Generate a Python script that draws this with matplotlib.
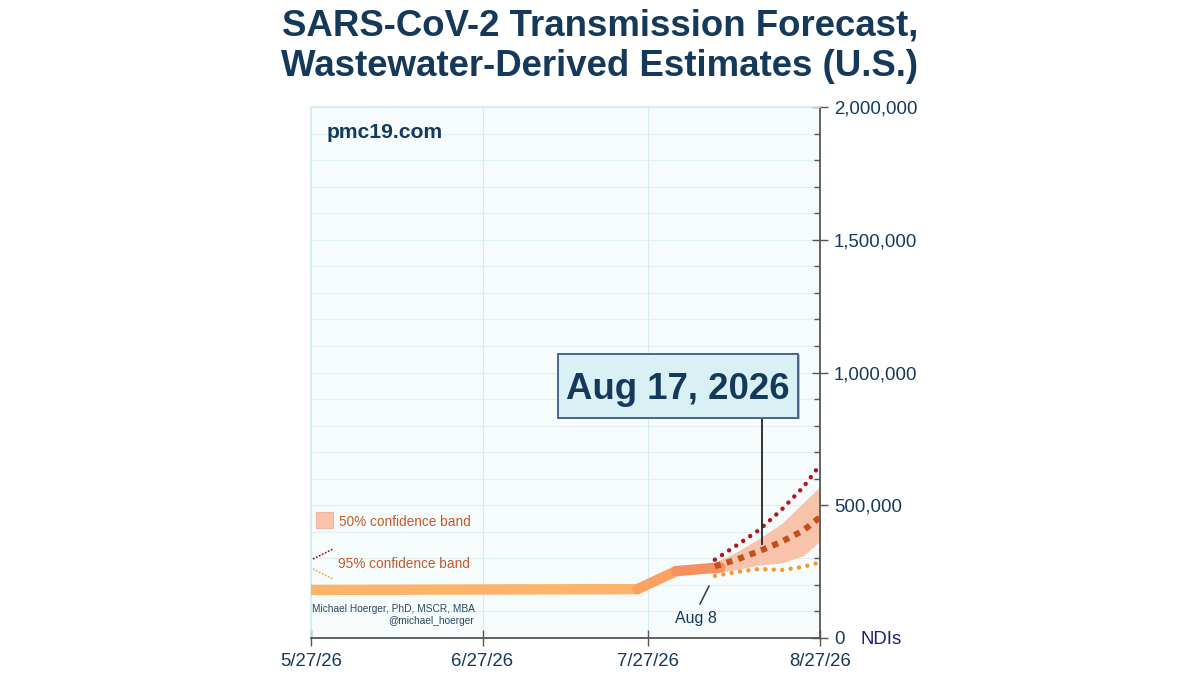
import matplotlib

matplotlib.use("Agg")
import matplotlib.pyplot as plt
from matplotlib.patches import Rectangle


# days since 5/27/26
TICK_DAYS = [0, 31, 61, 92]
TICK_LABELS = ["5/27/26", "6/27/26", "7/27/26", "8/27/26"]
Y_TICKS = [0, 500000, 1000000, 1500000, 2000000]
Y_LABELS = ["0", "500,000", "1,000,000", "1,500,000", "2,000,000"]
Y_MINOR = [i * 100000 for i in range(21)]

HIST_DAYS = [0, 36, 59, 66, 74]
HIST_VALUES = [181000, 183000, 184000, 252000, 266000]
HIST_COLORS = ["#FDB469", "#FDB469", "#FBA263", "#F6905E"]

FC_DAYS = [73, 77, 81, 85, 89, 92]
FC_MEDIAN = [270000, 296000, 327000, 362000, 405000, 455000]
FC_BAND_HI = [285000, 325000, 375000, 430000, 510000, 570000]
FC_BAND_LO = [245000, 258000, 275000, 282000, 310000, 365000]
FC_95_HI = [295000, 350000, 407000, 482000, 569000, 652000]
FC_95_LO = [234000, 249000, 260000, 256000, 268000, 285000]

NAVY = "#15395A"
ORANGE_TEXT = "#C5592A"
W, H = 1200, 675


def px(x, y):
    return x / W, 1 - y / H


plt.rcParams["font.family"] = ["Liberation Sans", "DejaVu Sans"]

fig = plt.figure(figsize=(12, 6.75), dpi=100)
left, top = px(311, 107)
right, bottom = px(820, 638)
ax = fig.add_axes([left, bottom, right - left, top - bottom])
ax.set_facecolor("#F6FCFB")
ax.set_xlim(0, 92)
ax.set_ylim(0, 2000000)

ax.set_yticks(Y_TICKS)
ax.set_yticklabels(Y_LABELS, ha="left")
ax.set_yticks([v for v in Y_MINOR if v not in Y_TICKS], minor=True)
ax.yaxis.tick_right()
ax.set_xticks(TICK_DAYS)
ax.set_xticklabels(TICK_LABELS)
ax.grid(True, which="both", axis="y", color="#DFF0F5", linewidth=0.8)
ax.grid(True, which="major", axis="x", color="#D6EAF3", linewidth=0.8)
ax.set_axisbelow(True)
ax.tick_params(axis="y", which="major", direction="inout", length=12, width=1.0,
               color="#555555", labelsize=13.4, labelcolor=NAVY, pad=4)
ax.tick_params(axis="y", which="minor", direction="in", length=4, width=1.0, color="#555555")
ax.tick_params(axis="x", direction="inout", length=12, width=1.0,
               color="#555555", labelsize=13.4, labelcolor=NAVY, pad=5)
for name, spine in ax.spines.items():
    if name in ("bottom", "right"):
        spine.set_color("#555555")
        spine.set_linewidth(1.3)
    else:
        spine.set_color("#D6EBF3")
        spine.set_linewidth(1.2)

# 50% band under the lines
ax.fill_between(FC_DAYS, FC_BAND_LO, FC_BAND_HI, color="#F7C4AB", linewidth=0, zorder=2)

# observed line, colour shifts toward the forecast
for i in range(len(HIST_DAYS) - 1):
    ax.plot(HIST_DAYS[i:i + 2], HIST_VALUES[i:i + 2], color=HIST_COLORS[i], linewidth=7.5,
            solid_capstyle="round" if i else "butt", solid_joinstyle="round", zorder=3)

ax.plot(FC_DAYS, FC_95_HI, color="#B5121B", linestyle=(0, (0.01, 1.9)), dash_capstyle="round",
        linewidth=3.2, zorder=4)
ax.plot(FC_DAYS, FC_95_LO, color="#F49A35", linestyle=(0, (0.01, 1.9)), dash_capstyle="round",
        linewidth=3.2, zorder=4)
ax.plot(FC_DAYS, FC_MEDIAN, color="#C0501C", linestyle=(0, (1, 1)), linewidth=4.4, zorder=4)

# title and labels
fig.text(*px(600, 26), "SARS-CoV-2 Transmission Forecast,", ha="center", va="center",
         fontsize=26.4, fontweight="bold", color=NAVY)
fig.text(*px(600, 67), "Wastewater-Derived Estimates (U.S.)", ha="center", va="center",
         fontsize=26.4, fontweight="bold", color=NAVY)
fig.text(*px(327, 132), "pmc19.com", ha="left", va="center", fontsize=15.2,
         fontweight="bold", color=NAVY)
fig.text(*px(860, 639), "NDIs", ha="left", va="center", fontsize=13.4, color="#1D1D7A")

# legend, drawn by hand like the source
x0, y0 = px(316, 528)
x1, y1 = px(333, 512)
fig.add_artist(Rectangle((x0, y0), x1 - x0, y1 - y0, transform=fig.transFigure,
                         facecolor="#F9C3AE", edgecolor="#F4B49C", linewidth=0.8))
fig.text(*px(339, 521.5), "50% confidence band", ha="left", va="center", fontsize=9.85, color=ORANGE_TEXT)
fig.text(*px(338, 563.5), "95% confidence band", ha="left", va="center", fontsize=9.85, color=ORANGE_TEXT)
for (xa, ya, xb, yb), col in [((313, 559, 333, 549), "#8E1B2A"), ((313, 569, 333, 579), "#F2A94E")]:
    a, b = px(xa, ya), px(xb, yb)
    fig.add_artist(plt.Line2D([a[0], b[0]], [a[1], b[1]], transform=fig.transFigure,
                              color=col, linestyle=(0, (1, 1)), linewidth=1.2, zorder=5))

fig.text(*px(475, 609), "Michael Hoerger, PhD, MSCR, MBA", ha="right", va="center",
         fontsize=7.25, color="#2A4A66", zorder=6)
fig.text(*px(474, 621), "@michael_hoerger", ha="right", va="center",
         fontsize=7.25, color="#2A4A66", zorder=6)

# Aug 8 callout
a, b = px(709, 586), px(700, 604)
fig.add_artist(plt.Line2D([a[0], b[0]], [a[1], b[1]], transform=fig.transFigure, color="#2C3E50", linewidth=1.1))
fig.text(*px(695.5, 618), "Aug 8", ha="center", va="center", fontsize=11.5, color=NAVY)

# Aug 17 callout
a, b = px(762, 416), px(762, 544)
fig.add_artist(plt.Line2D([a[0], b[0]], [a[1], b[1]], transform=fig.transFigure,
                          color="#222222", linewidth=1.3, zorder=6))
x0, y0 = px(558, 418)
x1, y1 = px(798, 354)
fig.add_artist(Rectangle((x0 + 0.0015, y0 - 0.002), x1 - x0, y1 - y0, transform=fig.transFigure,
                         facecolor="#B9B9C4", edgecolor="none", zorder=6))
fig.add_artist(Rectangle((x0, y0), x1 - x0, y1 - y0, transform=fig.transFigure,
                         facecolor="#D9F1F4", edgecolor="#3F5A8A", linewidth=1.3, zorder=7))
fig.text(*px(678, 390), "Aug 17, 2026", ha="center", va="center", fontsize=26.4,
         fontweight="bold", color=NAVY, zorder=8)

fig.savefig("out.png", dpi=100)
plt.close(fig)
